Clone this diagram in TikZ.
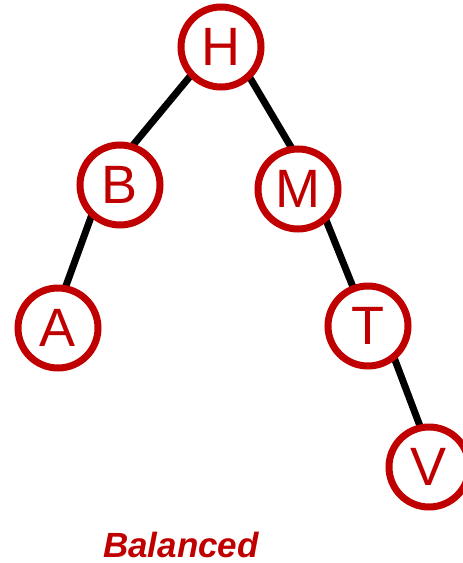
\documentclass[tikz,border=0pt]{standalone}
\usepackage{fontspec}
\setmainfont{Liberation Sans}
\usetikzlibrary{backgrounds}
\definecolor{treered}{HTML}{C00000}
\begin{document}
\begin{tikzpicture}[x=1pt,y=-1pt,
  treenode/.style={circle, draw=treered, line width=7pt, fill=white,
    minimum size=80pt, inner sep=0pt, outer sep=0pt, text=treered,
    font=\fontsize{54}{54}\selectfont},
  branch/.style={line width=7pt, black}]
\clip (0,0) rectangle (463,563);
\useasboundingbox (0,0) rectangle (463,563);
% tree nodes
\node[treenode] (H) at (221,47) {H};
\node[treenode] (B) at (120,185) {B};
\node[treenode] (M) at (298,189) {M};
\node[treenode] (A) at (58,328) {A};
\node[treenode] (T) at (368,326) {T};
\node[treenode] (V) at (429,467) {V};
% branches, kept beneath the nodes
\begin{scope}[on background layer]
\draw[branch] (H.223) -- (B.73);
\draw[branch] (H.314) -- (M.98);
\draw[branch] (B.226) -- (A.80);
\draw[branch] (M.313) -- (T.111);
\draw[branch] (T.310) -- (V.102);
\end{scope}
% caption
\node[anchor=base, text=treered, font=\fontsize{35}{35}\selectfont\bfseries\itshape] (cap) at (181,557) {Balanced};
\end{tikzpicture}
\end{document}
